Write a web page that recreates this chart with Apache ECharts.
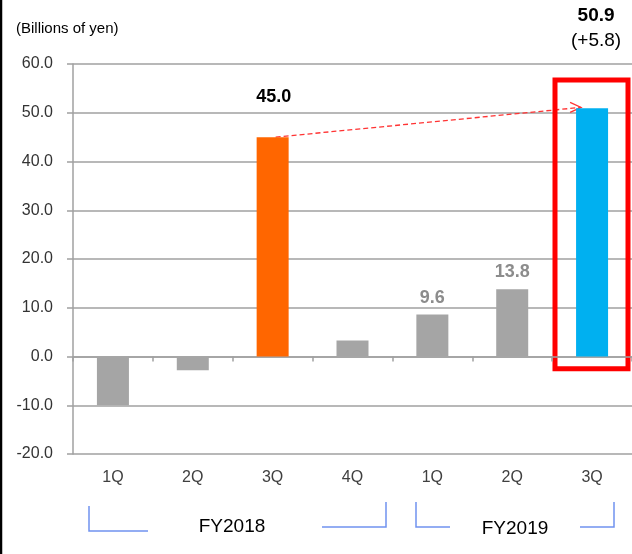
<!DOCTYPE html>
<html>
<head>
<meta charset="utf-8">
<script src="https://cdn.jsdelivr.net/npm/echarts@6/dist/echarts.min.js"></script>
<style>
  html, body { margin: 0; padding: 0; background: #fff; }
  #main { width: 632px; height: 554px; }
</style>
</head>
<body>
<div id="main"></div>
<script>
// 季度名称
var quarters = ['1Q', '2Q', '3Q', '4Q', '1Q', '2Q', '3Q'];
// 营业利润 (Billions of yen)
var profit = [-10.0, -2.8, 45.0, 3.3, 8.6, 13.8, 50.9];
// 柱顶数字
var valueLabels = ['', '', '45.0', '', '9.6', '13.8', '50.9'];
// 前年同期比
var changeLabel = '(+5.8)';
// 年度名称
var fiscalYears = ['FY2018', 'FY2019'];
// y轴刻度
var yMin = -20, yMax = 60, yStep = 10;

var font = '"Liberation Sans", Arial, sans-serif';
var grayBar = '#a5a5a5';
var axisGray = '#a0a0a0';
var bracketBlue = '#7092f0';

// 柱状图 data
var barData = [];
for (var i = 0; i < profit.length; i++) {
    var color = grayBar;
    if (i === 2) color = '#ff6600';
    if (i === 6) color = '#00b0f0';
    var item = {
        value: profit[i],
        itemStyle: { color: color },
        label: { show: valueLabels[i] !== '' }
    };
    if (i === 2) {
        item.label.color = '#000';
        item.label.offset = [1, -23];
    }
    if (i === 6) {
        item.label.formatter = '{a|' + valueLabels[i] + '}\n{b|' + changeLabel + '}';
        item.label.offset = [4, -47];
    }
    barData.push(item);
}

var myChart = echarts.init(document.getElementById('main'), null, { renderer: 'canvas' });

var option = {
    backgroundColor: '#fff',
    animation: false,
    title: {
        text: '(Billions of yen)',
        left: 11,
        top: 16,
        textStyle: { fontFamily: font, fontSize: 15, fontWeight: 'normal', color: '#000' }
    },
    grid: { left: 73, right: -1, top: 64, bottom: 100 },
    xAxis: [
        {
            // 零线上的刻度
            type: 'category',
            data: quarters,
            axisLine: { show: true, onZero: true, lineStyle: { color: axisGray, width: 1.5 } },
            axisTick: { show: true, length: 5, lineStyle: { color: axisGray, width: 1.5 } },
            axisLabel: { show: false },
            splitLine: { show: false }
        },
        {
            // 底部季度名称
            type: 'category',
            data: quarters,
            position: 'bottom',
            axisLine: { show: false, onZero: false },
            axisTick: { show: false },
            axisLabel: { margin: 16, fontFamily: font, fontSize: 16, color: '#404040' },
            splitLine: { show: false }
        }
    ],
    yAxis: {
        type: 'value',
        min: yMin,
        max: yMax,
        interval: yStep,
        axisLine: { show: true, lineStyle: { color: axisGray, width: 1.5 } },
        axisTick: { show: true, length: 6, lineStyle: { color: axisGray, width: 1.5 } },
        axisLabel: {
            margin: 20,
            fontFamily: font,
            fontSize: 16,
            color: '#333',
            formatter: function (v) { return v.toFixed(1); }
        },
        splitLine: { show: true, lineStyle: { color: axisGray, width: 1.5 } }
    },
    series: [
        {
            type: 'bar',
            xAxisIndex: 0,
            barWidth: 32,
            data: barData,
            label: {
                position: 'top',
                distance: 8,
                fontFamily: font,
                fontSize: 18,
                fontWeight: 'bold',
                color: '#8c8c8c',
                formatter: function (p) { return valueLabels[p.dataIndex]; },
                rich: {
                    a: { fontFamily: font, fontSize: 19, fontWeight: 'bold', color: '#000', lineHeight: 25, align: 'center' },
                    b: { fontFamily: font, fontSize: 19, fontWeight: 'normal', color: '#000', lineHeight: 25, align: 'center' }
                }
            }
        }
    ]
};
myChart.setOption(option);

// 注释: 虚线箭头, 红框, 年度括号
var p0 = myChart.convertToPixel({ xAxisIndex: 0, yAxisIndex: 0 }, [2, profit[2]]);
var p1 = myChart.convertToPixel({ xAxisIndex: 0, yAxisIndex: 0 }, [6, 51.1]);
var tipX = p1[0] - 11, tipY = p1[1];
var boxTop = myChart.convertToPixel({ yAxisIndex: 0 }, 56.7);
var boxBottom = myChart.convertToPixel({ yAxisIndex: 0 }, -2.5);

function bracket(x1, x2, yTop, yBot, side) {
    // side: 'left' 竖线在左, 'right' 竖线在右
    var vx = side === 'left' ? x1 : x2;
    return {
        type: 'polyline',
        shape: { points: side === 'left' ? [[vx, yTop], [vx, yBot], [x2, yBot]] : [[x1, yBot], [vx, yBot], [vx, yTop]] },
        style: { stroke: bracketBlue, lineWidth: 1.5, fill: null }
    };
}

myChart.setOption({
    graphic: [
        // 左侧黑边
        { type: 'line', shape: { x1: 1, y1: 0, x2: 1, y2: 554 }, style: { stroke: '#000', lineWidth: 2.5 } },
        // 虚线
        {
            type: 'line',
            shape: { x1: p0[0] + 3, y1: p0[1], x2: tipX, y2: tipY },
            style: { stroke: '#ff3333', lineWidth: 1.3, lineDash: [5, 3] }
        },
        // 箭头
        {
            type: 'polyline',
            shape: { points: [[tipX - 11, tipY - 5], [tipX, tipY], [tipX - 11, tipY + 5]] },
            style: { stroke: '#ff3333', lineWidth: 1.3, fill: null }
        },
        // 红框
        {
            type: 'rect',
            shape: { x: 555, y: boxTop, width: 73, height: boxBottom - boxTop },
            style: { stroke: '#ff0000', lineWidth: 5, fill: null }
        },
        bracket(89, 148, 506, 531, 'left'),
        bracket(322, 386, 502, 527, 'right'),
        bracket(416, 450, 502, 527, 'left'),
        bracket(580, 614, 502, 527, 'right'),
        {
            type: 'text',
            style: { text: fiscalYears[0], x: 232, y: 527, align: 'center', verticalAlign: 'middle', font: '19px ' + font, fill: '#000' }
        },
        {
            type: 'text',
            style: { text: fiscalYears[1], x: 515, y: 529, align: 'center', verticalAlign: 'middle', font: '19px ' + font, fill: '#000' }
        }
    ]
});
</script>
</body>
</html>
